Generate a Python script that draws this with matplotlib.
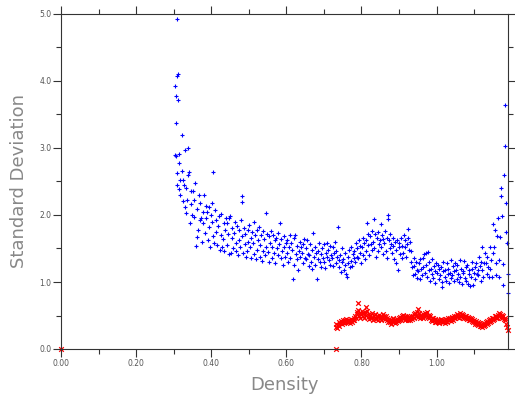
import matplotlib.pyplot as plt
from matplotlib.ticker import MultipleLocator, FormatStrFormatter

# blue series: density vs standard deviation
blue_density = [
    0.303, 0.304, 0.305, 0.306, 0.307, 0.308, 0.309, 0.309,
    0.310, 0.311, 0.312, 0.313, 0.314, 0.315, 0.317, 0.318,
    0.321, 0.323, 0.325, 0.326, 0.328, 0.329,
    0.330, 0.332, 0.334, 0.336, 0.338, 0.339,
    0.341, 0.343, 0.345, 0.347, 0.349,
    0.351, 0.353, 0.355, 0.357, 0.359,
    0.361, 0.363, 0.365, 0.367, 0.369,
    0.371, 0.373, 0.375, 0.377, 0.379,
    0.381, 0.383, 0.385, 0.387, 0.389,
    0.391, 0.393, 0.395, 0.397, 0.399,
    0.401, 0.403, 0.405, 0.406, 0.408,
    0.410, 0.412, 0.414, 0.416, 0.418,
    0.421, 0.423, 0.425, 0.427, 0.429,
    0.431, 0.433, 0.435, 0.437, 0.439,
    0.441, 0.442, 0.444, 0.446, 0.448,
    0.450, 0.452, 0.454, 0.456, 0.458,
    0.461, 0.463, 0.465, 0.467, 0.469,
    0.471, 0.473, 0.475, 0.477, 0.479,
    0.481, 0.482, 0.483, 0.485, 0.487, 0.489,
    0.491, 0.493, 0.495, 0.497, 0.498,
    0.501, 0.503, 0.505, 0.507, 0.509,
    0.511, 0.513, 0.515, 0.517, 0.519,
    0.521, 0.523, 0.525, 0.527, 0.529,
    0.531, 0.533, 0.535, 0.537, 0.539,
    0.541, 0.543, 0.545, 0.546, 0.548,
    0.551, 0.553, 0.555, 0.557, 0.559,
    0.561, 0.563, 0.565, 0.567, 0.569,
    0.571, 0.573, 0.575, 0.577, 0.579,
    0.581, 0.583, 0.585, 0.587, 0.589,
    0.591, 0.593, 0.595, 0.597, 0.599,
    0.601, 0.603, 0.605, 0.607, 0.609,
    0.611, 0.613, 0.615, 0.617, 0.619,
    0.621, 0.623, 0.625, 0.627, 0.629,
    0.631, 0.633, 0.635, 0.637, 0.639,
    0.641, 0.643, 0.645, 0.647, 0.649,
    0.651, 0.653, 0.655, 0.657, 0.659,
    0.661, 0.663, 0.665, 0.667, 0.669,
    0.671, 0.673, 0.675, 0.677, 0.679,
    0.681, 0.683, 0.685, 0.687, 0.689,
    0.691, 0.693, 0.695, 0.697, 0.699,
    0.701, 0.703, 0.705, 0.707, 0.709,
    0.711, 0.713, 0.715, 0.717, 0.719,
    0.721, 0.723, 0.725, 0.727, 0.729,
    0.731, 0.733, 0.735, 0.737, 0.739,
    0.741, 0.743, 0.745, 0.747, 0.749,
    0.751, 0.753, 0.755, 0.757, 0.759,
    0.761, 0.763, 0.765, 0.767, 0.769,
    0.771, 0.773, 0.775, 0.777, 0.779,
    0.781, 0.783, 0.785, 0.787, 0.789,
    0.791, 0.793, 0.795, 0.797, 0.799,
    0.801, 0.803, 0.805, 0.807, 0.809,
    0.811, 0.813, 0.814, 0.816, 0.818,
    0.821, 0.823, 0.825, 0.827, 0.829,
    0.831, 0.833, 0.834, 0.836, 0.838,
    0.841, 0.843, 0.845, 0.847, 0.849,
    0.851, 0.852, 0.854, 0.856, 0.858,
    0.861, 0.863, 0.865, 0.867, 0.869,
    0.870, 0.871, 0.873, 0.875, 0.877, 0.879,
    0.881, 0.883, 0.885, 0.887, 0.889,
    0.891, 0.893, 0.895, 0.897, 0.899,
    0.901, 0.903, 0.905, 0.907, 0.909,
    0.911, 0.913, 0.915, 0.917, 0.919,
    0.921, 0.923, 0.924, 0.926, 0.928,
    0.931, 0.933, 0.935, 0.937, 0.939,
    0.941, 0.943, 0.945, 0.947, 0.949,
    0.951, 0.953, 0.955, 0.957, 0.959,
    0.961, 0.963, 0.965, 0.967, 0.969,
    0.971, 0.973, 0.975, 0.977, 0.979,
    0.981, 0.983, 0.985, 0.987, 0.989,
    0.991, 0.993, 0.995, 0.997, 0.999,
    1.001, 1.003, 1.005, 1.007, 1.009,
    1.011, 1.013, 1.014, 1.016, 1.018,
    1.021, 1.023, 1.025, 1.027, 1.029,
    1.031, 1.033, 1.035, 1.037, 1.039,
    1.041, 1.043, 1.045, 1.047, 1.049,
    1.051, 1.053, 1.055, 1.057, 1.059,
    1.061, 1.063, 1.065, 1.067, 1.069,
    1.071, 1.073, 1.075, 1.077, 1.079,
    1.081, 1.083, 1.085, 1.087, 1.089,
    1.091, 1.093, 1.095, 1.097, 1.099,
    1.101, 1.103, 1.105, 1.107, 1.109,
    1.111, 1.113, 1.115, 1.117, 1.119,
    1.121, 1.122, 1.124, 1.126, 1.128,
    1.131, 1.133, 1.135, 1.137, 1.139,
    1.141, 1.143, 1.145, 1.147, 1.149,
    1.151, 1.153, 1.155, 1.157, 1.159,
    1.161, 1.163, 1.165, 1.167, 1.169,
    1.171, 1.172, 1.174, 1.176, 1.178,
    1.180, 1.182, 1.182, 1.184, 1.186, 1.188, 1.189,
    1.190,
]
blue_std = [
    2.90, 3.92, 3.78, 2.88, 3.37, 4.93, 2.45, 2.62,
    4.08, 4.10, 3.72, 2.91, 2.78, 2.39, 2.30, 2.52,
    3.19, 2.66, 2.52, 2.21, 2.45, 2.12,
    2.97, 2.03, 2.40, 2.22, 3.00, 2.60,
    2.64, 1.88, 2.16, 2.36, 2.00,
    2.36, 1.97, 2.22, 2.48, 1.54,
    2.09, 1.67, 1.78, 2.30, 1.92,
    2.18, 1.96, 1.60, 1.88, 2.05,
    2.30, 1.73, 1.95, 2.14, 2.04,
    1.62, 2.12, 1.82, 1.52, 2.00,
    1.90, 2.18, 2.64, 1.68, 1.58,
    2.07, 1.75, 1.92, 1.55, 1.84,
    1.98, 1.48, 1.70, 2.02, 1.52,
    1.64, 1.88, 1.46, 1.78, 1.95,
    1.88, 1.55, 1.72, 1.42, 1.96,
    1.98, 1.43, 1.66, 1.81, 1.50,
    1.73, 1.90, 1.47, 1.58, 1.84,
    1.40, 1.62, 1.78, 1.52, 1.92,
    1.68, 2.28, 2.19, 1.44, 1.80, 1.56,
    1.72, 1.38, 1.46, 1.60, 1.78,
    1.85, 1.52, 1.66, 1.36, 1.74,
    1.58, 1.90, 1.42, 1.70, 1.34,
    1.78, 1.48, 1.62, 1.82, 1.38,
    1.55, 1.70, 1.32, 1.46, 1.76,
    1.64, 1.40, 1.52, 2.03, 1.72,
    1.45, 1.68, 1.30, 1.58, 1.76,
    1.52, 1.36, 1.70, 1.44, 1.62,
    1.28, 1.66, 1.50, 1.40, 1.73,
    1.56, 1.88, 1.36, 1.64, 1.46,
    1.25, 1.52, 1.68, 1.38, 1.58,
    1.44, 1.62, 1.30, 1.52, 1.70,
    1.36, 1.58, 1.48, 1.04, 1.66,
    1.25, 1.70, 1.42, 1.54, 1.34,
    1.18, 1.47, 1.60, 1.38, 1.52,
    1.44, 1.28, 1.56, 1.64, 1.36,
    1.50, 1.34, 1.62, 1.42, 1.24,
    1.40, 1.56, 1.30, 1.48, 1.19,
    1.73, 1.38, 1.52, 1.26, 1.44,
    1.04, 1.46, 1.34, 1.58, 1.30,
    1.42, 1.22, 1.50, 1.36, 1.56,
    1.30, 1.21, 1.44, 1.58, 1.38,
    1.48, 1.33, 1.26, 1.54, 1.40,
    1.36, 1.52, 1.24, 1.44, 1.60,
    1.46, 1.28, 1.38, 1.82, 1.33,
    1.22, 1.40, 1.15, 1.50, 1.30,
    1.34, 1.18, 1.44, 1.26, 1.12,
    1.07, 1.38, 1.28, 1.48, 1.22,
    1.32, 1.52, 1.24, 1.42, 1.36,
    1.46, 1.30, 1.58, 1.38, 1.50,
    1.36, 1.62, 1.44, 1.54, 1.28,
    1.52, 1.66, 1.40, 1.58, 1.34,
    1.62, 1.46, 1.88, 1.72, 1.55,
    1.40, 1.68, 1.56, 1.76, 1.48,
    1.60, 1.94, 1.50, 1.72, 1.38,
    1.66, 1.46, 1.74, 1.56, 1.62,
    1.52, 1.87, 1.70, 1.42, 1.64,
    1.58, 1.76, 1.46, 1.66, 1.36,
    2.00, 1.94, 1.62, 1.50, 1.72, 1.56,
    1.44, 1.66, 1.54, 1.34, 1.60,
    1.48, 1.28, 1.62, 1.18, 1.52,
    1.58, 1.42, 1.66, 1.36, 1.54,
    1.44, 1.70, 1.52, 1.62, 1.38,
    1.56, 1.66, 1.79, 1.48, 1.60,
    1.46, 1.30, 1.22, 1.10, 1.36,
    1.24, 1.12, 1.30, 1.18, 1.06,
    1.16, 1.28, 1.04, 1.34, 1.20,
    1.10, 1.22, 1.36, 1.42, 1.14,
    1.43, 1.26, 1.08, 1.45, 1.18,
    1.30, 1.02, 1.20, 1.12, 1.34,
    1.06, 1.24, 1.16, 0.98, 1.28,
    1.14, 1.26, 1.04, 1.20, 1.10,
    1.22, 1.00, 0.93, 1.16, 1.30,
    1.08, 1.18, 1.02, 1.28, 1.12,
    1.20, 0.98, 1.14, 1.33, 1.06,
    1.10, 1.24, 1.02, 1.16, 1.28,
    1.18, 1.04, 1.26, 1.12, 1.00,
    1.33, 1.08, 1.20, 0.97, 1.14,
    1.16, 1.31, 1.06, 1.22, 1.02,
    1.26, 0.97, 1.12, 1.18, 0.94,
    1.08, 1.30, 1.20, 0.96, 1.14,
    1.22, 1.04, 1.28, 1.12, 1.18,
    1.10, 1.37, 1.24, 1.02, 1.30,
    1.52, 1.18, 1.07, 1.28, 1.43,
    1.28, 1.12, 1.37, 1.22, 1.07,
    1.20, 1.52, 1.33, 1.07, 1.43,
    1.87, 1.52, 1.77, 1.28, 1.10,
    1.69, 1.95, 1.33, 1.07, 1.67,
    2.40, 2.28, 1.99, 1.27, 0.96,
    2.60, 3.64, 3.03, 2.18, 1.75, 1.58, 1.12,
    0.84,
]

# red series
red_density = [
    0.000, 0.731,
    0.731, 0.733, 0.735, 0.737, 0.739, 0.741, 0.743, 0.745, 0.747, 0.749,
    0.751, 0.753, 0.755, 0.757, 0.759, 0.761, 0.763, 0.765, 0.767, 0.769,
    0.771, 0.773, 0.775, 0.777, 0.779, 0.781, 0.783, 0.785, 0.787, 0.789,
    0.790, 0.791, 0.793, 0.795, 0.797, 0.799,
    0.801, 0.803, 0.805, 0.807, 0.809, 0.811, 0.813, 0.815, 0.817, 0.819,
    0.821, 0.823, 0.825, 0.827, 0.829, 0.831, 0.833, 0.835, 0.837, 0.839,
    0.841, 0.843, 0.845, 0.847, 0.849, 0.851, 0.853, 0.855, 0.857, 0.859,
    0.861, 0.863, 0.865, 0.867, 0.869, 0.871, 0.873, 0.875, 0.877, 0.879,
    0.881, 0.883, 0.885, 0.887, 0.889, 0.891, 0.893, 0.895, 0.897, 0.899,
    0.901, 0.903, 0.905, 0.907, 0.909, 0.911, 0.913, 0.915, 0.917, 0.919,
    0.921, 0.923, 0.925, 0.927, 0.929, 0.931, 0.933, 0.935, 0.937, 0.939,
    0.941, 0.943, 0.945, 0.947, 0.949, 0.950, 0.951, 0.953, 0.955, 0.957, 0.959,
    0.961, 0.963, 0.965, 0.967, 0.969, 0.971, 0.973, 0.975, 0.977, 0.979,
    0.981, 0.983, 0.985, 0.987, 0.989, 0.991, 0.993, 0.995, 0.997, 0.999,
    1.001, 1.003, 1.005, 1.007, 1.009, 1.011, 1.013, 1.015, 1.017, 1.019,
    1.021, 1.023, 1.025, 1.027, 1.029, 1.031, 1.033, 1.035, 1.037, 1.039,
    1.041, 1.043, 1.045, 1.047, 1.049, 1.051, 1.053, 1.055, 1.057, 1.059,
    1.061, 1.063, 1.065, 1.067, 1.069, 1.071, 1.073, 1.075, 1.077, 1.079,
    1.081, 1.083, 1.085, 1.087, 1.089, 1.091, 1.093, 1.095, 1.097, 1.099,
    1.101, 1.103, 1.105, 1.107, 1.109, 1.111, 1.113, 1.115, 1.117, 1.119,
    1.121, 1.123, 1.125, 1.127, 1.129, 1.131, 1.133, 1.135, 1.137, 1.139,
    1.141, 1.143, 1.145, 1.147, 1.149, 1.151, 1.153, 1.155, 1.157, 1.159,
    1.161, 1.163, 1.165, 1.167, 1.169, 1.171, 1.173, 1.175, 1.177, 1.179,
    1.181, 1.183, 1.185, 1.187, 1.189,
]
red_std = [
    0.00, 0.00,
    0.33, 0.38, 0.31, 0.36, 0.40, 0.34, 0.39, 0.42, 0.37, 0.41,
    0.44, 0.39, 0.43, 0.40, 0.45, 0.41, 0.44, 0.40, 0.43, 0.39,
    0.42, 0.45, 0.41, 0.44, 0.47, 0.43, 0.50, 0.46, 0.55, 0.52,
    0.68, 0.58, 0.49, 0.54, 0.47, 0.52,
    0.56, 0.50, 0.53, 0.47, 0.55, 0.63, 0.51, 0.57, 0.48, 0.52,
    0.45, 0.50, 0.46, 0.53, 0.48, 0.44, 0.50, 0.47, 0.52, 0.45,
    0.49, 0.43, 0.48, 0.51, 0.46, 0.50, 0.44, 0.48, 0.52, 0.47,
    0.50, 0.45, 0.49, 0.43, 0.47, 0.41, 0.45, 0.40, 0.44, 0.38,
    0.42, 0.46, 0.41, 0.44, 0.39, 0.43, 0.40, 0.45, 0.42, 0.46,
    0.43, 0.48, 0.44, 0.49, 0.46, 0.51, 0.47, 0.44, 0.49, 0.45,
    0.50, 0.46, 0.43, 0.48, 0.44, 0.47, 0.50, 0.45, 0.49, 0.52,
    0.47, 0.53, 0.49, 0.55, 0.51, 0.60, 0.48, 0.53, 0.50, 0.46, 0.51,
    0.48, 0.52, 0.47, 0.50, 0.54, 0.49, 0.52, 0.55, 0.48, 0.51,
    0.46, 0.49, 0.44, 0.47, 0.42, 0.46, 0.43, 0.40, 0.45, 0.41,
    0.44, 0.40, 0.43, 0.39, 0.42, 0.45, 0.41, 0.44, 0.40, 0.43,
    0.39, 0.42, 0.45, 0.41, 0.44, 0.47, 0.43, 0.46, 0.42, 0.45,
    0.48, 0.44, 0.47, 0.50, 0.46, 0.49, 0.52, 0.48, 0.51, 0.47,
    0.50, 0.53, 0.49, 0.52, 0.48, 0.51, 0.47, 0.50, 0.46, 0.49,
    0.45, 0.48, 0.44, 0.47, 0.43, 0.46, 0.42, 0.45, 0.41, 0.44,
    0.40, 0.38, 0.42, 0.37, 0.40, 0.36, 0.39, 0.34, 0.38, 0.35,
    0.33, 0.37, 0.35, 0.39, 0.36, 0.40, 0.38, 0.42, 0.39, 0.43,
    0.41, 0.45, 0.42, 0.46, 0.44, 0.47, 0.45, 0.49, 0.46, 0.50,
    0.47, 0.51, 0.53, 0.49, 0.52, 0.48, 0.51, 0.47, 0.49, 0.45,
    0.47, 0.43, 0.38, 0.33, 0.28,
]

fig = plt.figure(figsize=(5.15, 4.0), dpi=100)
ax = fig.add_axes([0.1184, 0.1275, 0.868, 0.8375])

ax.scatter(blue_density, blue_std, marker='+', color='blue', s=12, linewidths=0.8, clip_on=False)
ax.scatter(red_density, red_std, marker='x', color='red', s=11, linewidths=0.9, clip_on=False)

ax.set_xlim(0.0, 1.19)
ax.set_ylim(0.0, 5.0)
ax.xaxis.set_major_locator(MultipleLocator(0.2))
ax.xaxis.set_minor_locator(MultipleLocator(0.1))
ax.yaxis.set_major_locator(MultipleLocator(1.0))
ax.yaxis.set_minor_locator(MultipleLocator(0.5))
ax.xaxis.set_major_formatter(FormatStrFormatter('%.2f'))
ax.yaxis.set_major_formatter(FormatStrFormatter('%.1f'))

ax.tick_params(which='both', direction='out', top=True, right=True,
               labelsize=5.5, labelcolor='#555555', color='#333333', width=0.8, pad=1.5)
ax.tick_params(which='major', length=5.5)
ax.tick_params(which='minor', length=3.5)
for s in ax.spines.values():
    s.set_color('#333333')
    s.set_linewidth(0.8)

ax.set_xlabel('Density', fontsize=13, color='#888888', labelpad=6)
ax.set_ylabel('Standard Deviation', fontsize=13, color='#888888', labelpad=8)

fig.savefig('out.png', dpi=100)
